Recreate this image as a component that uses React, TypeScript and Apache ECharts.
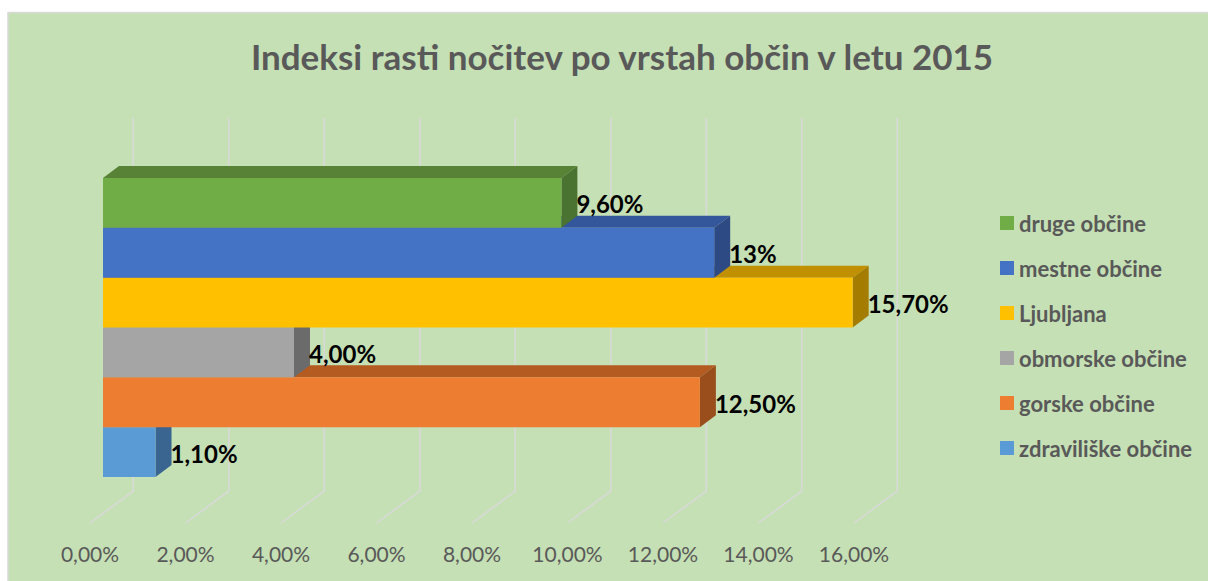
import React, { useEffect, useRef } from "react";
import * as echarts from "echarts";

const categories = [
  "druge občine",
  "mestne občine",
  "Ljubljana",
  "obmorske občine",
  "gorske občine",
  "zdraviliške občine",
];
const values = [9.6, 12.8, 15.7, 4.0, 12.5, 1.1];
const valueLabels = ["9,60%", "13%", "15,70%", "4,00%", "12,50%", "1,10%"];
const frontColors = ["#70AD47", "#4472C4", "#FFC000", "#A5A5A5", "#ED7D31", "#5B9BD5"];
const topColors = ["#588236", "#34569A", "#C09000", "#7C7C7C", "#B45B22", "#44749F"];
const sideColors = ["#4A7230", "#2E4A85", "#A47C00", "#6B6B6B", "#9A4E1C", "#3A6590"];
const tickValues = [0, 2, 4, 6, 8, 10, 12, 14, 16];
const tickLabels = ["0,00%", "2,00%", "4,00%", "6,00%", "8,00%", "10,00%", "12,00%", "14,00%", "16,00%"];
const titleText = "Indeksi rasti nočitev po vrstah občin v letu 2015";

const DX = 16;
const DY = -12;
const FONT = "Lato, 'Open Sans', sans-serif";

export default function App() {
  const ref = useRef<HTMLDivElement>(null);
  useEffect(() => {
    if (!ref.current) return;
    const chart = echarts.init(ref.current, undefined, { renderer: "svg" });

    const barSeries = categories
      .map((name, i) => ({
        name,
        type: "custom",
        xAxisIndex: 0,
        yAxisIndex: 0,
        itemStyle: { color: frontColors[i] },
        data: [[values[i], i]],
        encode: { x: 0, y: 1 },
        renderItem: (params: any, api: any) => {
          const v = api.value(0);
          const idx = api.value(1);
          const p0 = api.coord([0, idx]);
          const p1 = api.coord([v, idx]);
          const h = api.size([0, 1])[1];
          const x0 = p0[0];
          const x1 = p1[0];
          const yT = p1[1] - h / 2;
          const yB = p1[1] + h / 2;
          const base = 100 - idx * 10;
          return {
            type: "group",
            children: [
              {
                type: "polygon",
                z2: base,
                shape: { points: [[x0, yT], [x1, yT], [x1 + DX, yT + DY], [x0 + DX, yT + DY]] },
                style: { fill: topColors[idx] },
              },
              {
                type: "polygon",
                z2: base + 1,
                shape: { points: [[x1, yT], [x1 + DX, yT + DY], [x1 + DX, yB + DY], [x1, yB]] },
                style: { fill: sideColors[idx] },
              },
              {
                type: "rect",
                z2: base + 2,
                shape: { x: x0, y: yT, width: x1 - x0, height: h },
                style: { fill: frontColors[idx] },
              },
              {
                type: "text",
                z2: 1000,
                x: x1 + DX - 1,
                y: p1[1] + 1,
                style: {
                  text: valueLabels[idx],
                  fill: "#000000",
                  fontSize: 24,
                  fontWeight: "bold",
                  fontFamily: FONT,
                  align: "left",
                  verticalAlign: "middle",
                },
              },
            ],
          };
        },
      }))
      .reverse();

    const option: any = {
      animation: false,
      backgroundColor: "#ffffff",
      title: {
        text: titleText,
        left: 617,
        textAlign: "center",
        top: 33,
        textStyle: { fontFamily: FONT, fontWeight: "bold", fontSize: 35, color: "#595959" },
      },
      graphic: [
        {
          type: "rect",
          z: -10,
          silent: true,
          shape: { x: 8, y: 12.5, width: 1210, height: 580 },
          style: { fill: "#C5E0B4", stroke: "#D9D9D9", lineWidth: 1.5 },
        },
      ],
      legend: {
        orient: "vertical",
        left: 995,
        top: 207,
        itemWidth: 14,
        itemHeight: 14,
        itemGap: 23,
        icon: "rect",
        selectedMode: false,
        data: categories,
        textStyle: { fontFamily: FONT, fontWeight: "bold", fontSize: 22, color: "#595959" },
      },
      grid: [
        { left: 103, width: 764, top: 178, height: 299, containLabel: false },
        { left: 90, width: 764, top: 523, height: 1, containLabel: false },
      ],
      xAxis: [
        { type: "value", gridIndex: 0, min: 0, max: 16, interval: 2, show: false },
        {
          type: "value",
          gridIndex: 1,
          min: 0,
          max: 16,
          interval: 2,
          axisLine: { show: false },
          axisTick: { show: false },
          splitLine: { show: false },
          axisLabel: {
            margin: 19,
            fontFamily: FONT,
            fontSize: 21,
            color: "#595959",
            formatter: (v: number) => tickLabels[tickValues.indexOf(v)] ?? "",
          },
        },
      ],
      yAxis: [
        { type: "category", gridIndex: 0, data: categories, inverse: true, show: false },
        { type: "value", gridIndex: 1, show: false },
      ],
      series: [
        {
          type: "custom",
          xAxisIndex: 0,
          yAxisIndex: 0,
          silent: true,
          data: tickValues.map((t) => [t, 0]),
          encode: { x: 0, y: 1 },
          renderItem: (params: any, api: any) => {
            const p = api.coord([api.value(0), 0]);
            const h = api.size([0, 1])[1];
            const topY = p[1] - h / 2;
            const bottomY = topY + 6 * h;
            return {
              type: "polyline",
              z2: 0,
              shape: {
                points: [
                  [p[0] + 30.3, topY - 60],
                  [p[0] + 30.3, bottomY + 14],
                  [p[0] - 13, bottomY + 46],
                ],
              },
              style: { stroke: "#D9D9D9", lineWidth: 1.5, fill: "none" },
            };
          },
        },
        ...barSeries,
      ],
    };
    chart.setOption(option);
    return () => chart.dispose();
  }, []);
  return (
    <div
      ref={ref}
      style={{ position: "absolute", left: 0, top: 0, width: 1208, height: 581 }}
    />
  );
}
